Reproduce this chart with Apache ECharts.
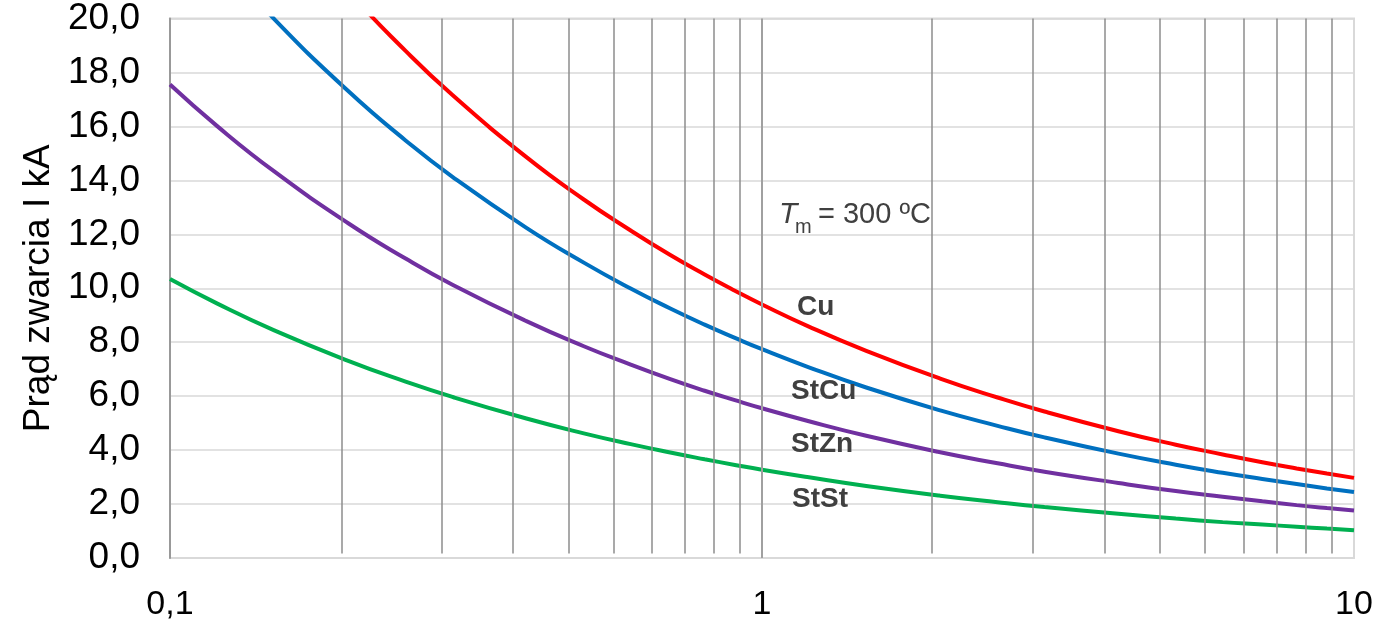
<!DOCTYPE html>
<html>
<head>
<meta charset="utf-8">
<script src="https://cdn.jsdelivr.net/npm/echarts@6/dist/echarts.min.js"></script>
<style>
html,body{margin:0;padding:0;background:#fff;}
#chart{width:1389px;height:622px;}
</style>
</head>
<body>
<div id="chart"></div>
<script>
// time t [s]
const tValues = [0.1, 0.12, 0.15, 0.2, 0.25, 0.3, 0.4, 0.5, 0.6, 0.7, 0.8, 0.9, 1, 1.2, 1.5, 2, 2.5, 3, 4, 5, 6, 7, 8, 9, 10];
// short-circuit current [kA]
const cu   = [29.73, 27.14, 24.27, 21.02, 18.80, 17.16, 14.86, 13.29, 12.14, 11.23, 10.51, 9.91, 9.40, 8.58, 7.68, 6.65, 5.95, 5.43, 4.70, 4.20, 3.84, 3.55, 3.32, 3.13, 2.97];
const stcu = [24.48, 22.34, 19.98, 17.31, 15.48, 14.13, 12.24, 10.95, 9.99, 9.25, 8.65, 8.16, 7.74, 7.07, 6.32, 5.47, 4.90, 4.47, 3.87, 3.46, 3.16, 2.93, 2.74, 2.58, 2.45];
const stzn = [17.55, 16.02, 14.33, 12.41, 11.10, 10.13, 8.78, 7.85, 7.17, 6.63, 6.20, 5.85, 5.55, 5.07, 4.53, 3.92, 3.51, 3.20, 2.78, 2.48, 2.27, 2.10, 1.96, 1.85, 1.76];
const stst = [10.34, 9.44, 8.44, 7.31, 6.54, 5.97, 5.17, 4.62, 4.22, 3.91, 3.66, 3.45, 3.27, 2.99, 2.67, 2.31, 2.07, 1.89, 1.64, 1.46, 1.33, 1.24, 1.16, 1.09, 1.03];
const seriesNames = ['Cu', 'StCu', 'StZn', 'StSt'];
// vertical grid lines (minor log ticks)
const gridDecade1 = [0.2, 0.3, 0.4, 0.5, 0.6, 0.7, 0.8, 0.9, 1];
const gridDecade2 = [2, 3, 4, 5, 6, 7, 8, 9, 10];
const majorLine = [1];
const yMin = 0, yMax = 20, yStep = 2;

const FONT = "'Liberation Sans', Arial, sans-serif";
const colors = ['#FF0000', '#0070C0', '#7030A0', '#00B050'];
const pairs = arr => tValues.map((t, i) => [t, arr[i]]);
const vLines = (vals, y0) => vals.map(v => [{coord: [v, y0]}, {coord: [v, yMax]}]);

const chart = echarts.init(document.getElementById('chart'), null, {renderer: 'canvas'});
const option = {
  animation: false,
  grid: {left: 170, right: 35, top: 17, bottom: 63, show: true, borderColor: '#d9d9d9', borderWidth: 2, backgroundColor: 'transparent'},
  xAxis: [
    {
      type: 'log', logBase: 10, min: 0.1, max: 10, gridIndex: 0,
      axisLine: {show: false}, axisTick: {show: false}, splitLine: {show: false},
      axisLabel: {
        fontFamily: FONT, fontSize: 34, color: '#000', margin: 30,
        formatter: v => String(Number(v.toPrecision(6))).replace('.', ',')
      }
    },
    {type: 'log', logBase: 10, min: 0.1, max: 11.945, gridIndex: 0, show: false},
    {type: 'log', logBase: 10, min: 0.09301, max: 10.925, gridIndex: 0, show: false}
  ],
  yAxis: {
    type: 'value', min: yMin, max: yMax, interval: yStep,
    axisLine: {show: true, lineStyle: {color: '#999999', width: 2}},
    axisTick: {show: false},
    splitLine: {show: true, lineStyle: {color: '#d9d9d9', width: 1.5}},
    axisLabel: {fontFamily: FONT, fontSize: 37, color: '#000', margin: 30,
      formatter: v => v.toFixed(1).replace('.', ',')},
    name: 'Prąd zwarcia I kA', nameLocation: 'middle', nameGap: 113,
    nameTextStyle: {fontFamily: FONT, fontSize: 37, color: '#000'}
  },
  series: [
    {
      type: 'line', xAxisIndex: 1, yAxisIndex: 0, data: [], silent: true,
      markLine: {symbol: 'none', silent: true, label: {show: false}, animation: false,
        lineStyle: {color: '#8c8c8c', width: 1.5, type: 'solid'},
        emphasis: {disabled: true},
        data: vLines(gridDecade1, 0.17)}
    },
    {
      type: 'line', xAxisIndex: 2, yAxisIndex: 0, data: [], silent: true,
      markLine: {symbol: 'none', silent: true, label: {show: false}, animation: false,
        lineStyle: {color: '#8c8c8c', width: 1.5, type: 'solid'},
        emphasis: {disabled: true},
        data: vLines(gridDecade2, 0.17)}
    },
    {
      type: 'line', xAxisIndex: 0, yAxisIndex: 0, data: [], silent: true,
      markLine: {symbol: 'none', silent: true, label: {show: false}, animation: false,
        lineStyle: {color: '#a0a0a0', width: 2, type: 'solid'},
        emphasis: {disabled: true},
        data: vLines(majorLine, 0)}
    },
    ...[cu, stcu, stzn, stst].map((arr, i) => ({
      name: seriesNames[i], type: 'line', xAxisIndex: 0, yAxisIndex: 0,
      data: pairs(arr), smooth: true, showSymbol: false, clip: true,
      lineStyle: {color: colors[i], width: 4}, itemStyle: {color: colors[i]}
    }))
  ],
  graphic: [
    {type: 'text', z: 100, x: 779, y: 215, style: {text: 'T', font: 'italic 30px ' + FONT, fill: '#404040', align: 'left', verticalAlign: 'middle'}},
    {type: 'text', z: 100, x: 795, y: 227, style: {text: 'm', font: '20px ' + FONT, fill: '#404040', align: 'left', verticalAlign: 'middle'}},
    {type: 'text', z: 100, x: 818, y: 215, style: {text: '= 300 ºC', font: '29px ' + FONT, fill: '#404040', align: 'left', verticalAlign: 'middle'}},
    {type: 'text', z: 100, x: 797, y: 307, style: {text: 'Cu', font: 'bold 28px ' + FONT, fill: '#404040', align: 'left', verticalAlign: 'middle'}},
    {type: 'text', z: 100, x: 791, y: 391, style: {text: 'StCu', font: 'bold 28px ' + FONT, fill: '#404040', align: 'left', verticalAlign: 'middle'}},
    {type: 'text', z: 100, x: 791, y: 444, style: {text: 'StZn', font: 'bold 28px ' + FONT, fill: '#404040', align: 'left', verticalAlign: 'middle'}},
    {type: 'text', z: 100, x: 792, y: 499, style: {text: 'StSt', font: 'bold 28px ' + FONT, fill: '#404040', align: 'left', verticalAlign: 'middle'}}
  ]
};
chart.setOption(option);
</script>
</body>
</html>
